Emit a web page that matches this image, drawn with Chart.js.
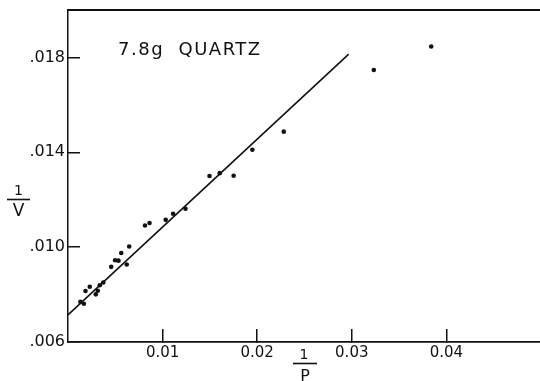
<!DOCTYPE html>
<html><head><meta charset="utf-8">
<script src="https://cdn.jsdelivr.net/npm/chart.js@4"></script>
<style>html,body{margin:0;padding:0;background:#fff;overflow:hidden}canvas{display:block}</style>
</head><body>
<canvas id="c" width="540" height="381"></canvas>
<script>
// 1/P values (x) and 1/V values (y)
const invP = [0.00131, 0.00168, 0.00185, 0.00230, 0.00294, 0.00315, 0.00336, 0.00373,
              0.00457, 0.00498, 0.00534, 0.00563, 0.00621, 0.00647, 0.00814, 0.00862,
              0.01033, 0.01111, 0.01242, 0.01496, 0.01604, 0.01751, 0.01949, 0.02281,
              0.03233, 0.03840];
const invV = [0.00769, 0.00761, 0.00815, 0.00833, 0.00801, 0.00816, 0.00839, 0.00851,
              0.00917, 0.00945, 0.00943, 0.00975, 0.00927, 0.01003, 0.01091, 0.01102,
              0.01115, 0.01141, 0.01162, 0.01300, 0.01312, 0.01301, 0.01411, 0.01487,
              0.01747, 0.01846];
// fitted straight line end points
const fitX = [0, 0.02968];
const fitY = [0.00714, 0.01814];
const xTicks = [0.01, 0.02, 0.03, 0.04];
const xTickLabels = ['0.01', '0.02', '0.03', '0.04'];
const yTicks = [0.006, 0.010, 0.014, 0.018];
const yTickLabels = ['.006', '.010', '.014', '.018'];
const titleText = '7.8g  QUARTZ';
const xTitle = ['1', 'P'];
const yTitle = ['1', 'V'];

const INK = '#111';
const FONT = 'DejaVu Sans';

const textPlugin = {
  id: 'texts',
  afterDraw(chart) {
    const c = chart.ctx;
    const a = chart.chartArea;
    c.save();
    c.fillStyle = INK;
    c.strokeStyle = INK;
    // plot title inside the frame
    c.font = '18px "' + FONT + '"';
    c.textAlign = 'left';
    c.textBaseline = 'alphabetic';
    try { c.letterSpacing = '1.5px'; } catch (e) {}
    c.fillText(titleText, a.left + 50, a.top + 45);
    try { c.letterSpacing = '0px'; } catch (e) {}
    // y title: fraction 1 / V
    c.textAlign = 'center';
    c.textBaseline = 'middle';
    c.font = '14px "' + FONT + '"';
    c.fillText(yTitle[0], 18.5, 191);
    c.lineWidth = 1.6;
    c.beginPath(); c.moveTo(7, 199.5); c.lineTo(30, 199.5); c.stroke();
    c.font = '17px "' + FONT + '"';
    c.fillText(yTitle[1], 18.5, 211.5);
    // x title: fraction 1 / P
    c.font = '14px "' + FONT + '"';
    c.fillText(xTitle[0], 304, 355);
    c.beginPath(); c.moveTo(293, 363.5); c.lineTo(317, 363.5); c.stroke();
    c.font = '16px "' + FONT + '"';
    c.fillText(xTitle[1], 305, 377);
    c.restore();
  }
};

function noPad(s) { s.paddingTop = 0; s.paddingBottom = 0; s.paddingLeft = 0; s.paddingRight = 0; }

new Chart(document.getElementById('c'), {
  type: 'scatter',
  data: {
    datasets: [
      {
        type: 'scatter',
        data: invP.map((x, i) => ({ x: x, y: invV[i] })),
        pointRadius: 2.3,
        pointBackgroundColor: INK,
        pointBorderWidth: 0,
        xAxisID: 'x', yAxisID: 'y'
      },
      {
        type: 'line',
        data: fitX.map((x, i) => ({ x: x, y: fitY[i] })),
        borderColor: INK,
        borderWidth: 1.6,
        pointRadius: 0,
        fill: false,
        xAxisID: 'x', yAxisID: 'y'
      }
    ]
  },
  options: {
    responsive: false,
    animation: false,
    devicePixelRatio: 1,
    layout: { autoPadding: false, padding: 0 },
    plugins: { legend: { display: false }, tooltip: { enabled: false }, title: { display: false } },
    scales: {
      x: {
        type: 'linear', position: 'bottom', min: 0, max: 0.0499,
        afterBuildTicks: s => { s.ticks = xTicks.map(v => ({ value: v })); },
        afterFit: s => { s.height = 39; noPad(s); },
        ticks: {
          callback: (v, i) => xTickLabels[i],
          font: { family: FONT, size: 15 }, color: INK, padding: 15,
          maxRotation: 0, minRotation: 0, autoSkip: false
        },
        grid: { drawOnChartArea: false, drawTicks: true, tickLength: -13, color: INK, lineWidth: 1.5 },
        border: { display: true, color: INK, width: 1.8 }
      },
      x2: {
        type: 'linear', position: 'top', display: true, min: 0, max: 1,
        afterFit: s => { s.height = 10; noPad(s); },
        ticks: { display: false },
        grid: { display: false, drawTicks: false },
        border: { display: true, color: INK, width: 2 }
      },
      y: {
        type: 'linear', position: 'left', min: 0.006, max: 0.020,
        afterBuildTicks: s => { s.ticks = yTicks.map(v => ({ value: v })); },
        afterFit: s => { s.width = 68; noPad(s); },
        ticks: {
          callback: (v, i) => yTickLabels[i],
          font: { family: FONT, size: 16 }, color: INK, padding: 15, autoSkip: false
        },
        grid: { drawOnChartArea: false, drawTicks: true, tickLength: -12, color: INK, lineWidth: 1.5 },
        border: { display: true, color: INK, width: 1.5 }
      }
    }
  },
  plugins: [textPlugin]
});
</script>
</body></html>
